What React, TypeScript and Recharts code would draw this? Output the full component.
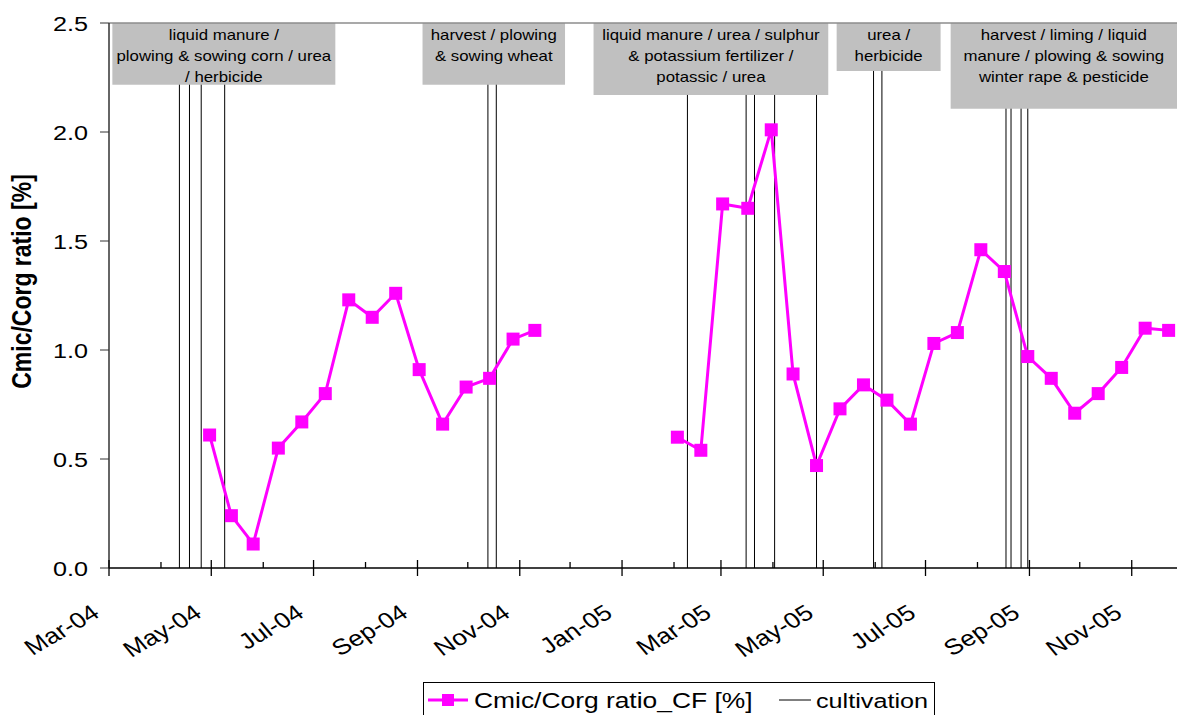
import React from "react";
import {
  LineChart,
  Line,
  XAxis,
  YAxis,
  ReferenceLine,
  ReferenceArea,
  Legend,
} from "recharts";

const FONT = "Arial, 'Liberation Sans', Helvetica, sans-serif";
const STRETCH = 1.2; // the source chart is stretched sideways
const MAGENTA = "#ff00ff";

// sampling dates and Cmic/Corg ratio (CF plot)
const sampleDates2004 = [
  "2004-04-30", "2004-05-13", "2004-05-26", "2004-06-10", "2004-06-24",
  "2004-07-08", "2004-07-22", "2004-08-05", "2004-08-19", "2004-09-02",
  "2004-09-16", "2004-09-30", "2004-10-14", "2004-10-28", "2004-11-10",
];
const ratioCF2004 = [
  0.61, 0.24, 0.11, 0.55, 0.67, 0.8, 1.23, 1.15, 1.26, 0.91, 0.66, 0.83, 0.87,
  1.05, 1.09,
];
const sampleDates2005 = [
  "2005-02-03", "2005-02-17", "2005-03-02", "2005-03-17", "2005-03-31",
  "2005-04-13", "2005-04-27", "2005-05-11", "2005-05-25", "2005-06-08",
  "2005-06-22", "2005-07-06", "2005-07-20", "2005-08-03", "2005-08-17",
  "2005-08-31", "2005-09-14", "2005-09-28", "2005-10-12", "2005-10-26",
  "2005-11-09", "2005-11-23",
];
const ratioCF2005 = [
  0.6, 0.54, 1.67, 1.65, 2.01, 0.89, 0.47, 0.73, 0.84, 0.77, 0.66, 1.03, 1.08,
  1.46, 1.36, 0.97, 0.87, 0.71, 0.8, 0.92, 1.1, 1.09,
];

// cultivation events
const cultivationDates = [
  "2004-04-12", "2004-04-18", "2004-04-25", "2004-05-09", "2004-10-13",
  "2004-10-18", "2005-02-09", "2005-03-16", "2005-03-21", "2005-04-02",
  "2005-04-27", "2005-05-31", "2005-06-05", "2005-08-18", "2005-08-21",
  "2005-08-27", "2005-08-31",
];

// grey note boxes
const noteTexts = [
  ["liquid manure /", "plowing & sowing corn / urea", "/ herbicide"],
  ["harvest / plowing", "& sowing wheat"],
  ["liquid manure / urea / sulphur", "& potassium fertilizer /", "potassic / urea"],
  ["urea /", "herbicide"],
  ["harvest / liming / liquid", "manure / plowing & sowing", "winter rape & pesticide"],
];
const noteFrom = ["2004-03-03", "2004-09-04", "2004-12-15", "2005-05-09", "2005-07-16"];
const noteTo = ["2004-07-14", "2004-11-28", "2005-05-04", "2005-07-10", "2005-11-28"];
const noteBottom = [2.217, 2.217, 2.17, 2.28, 2.107];

const monthTicks = [
  "2004-03-01", "2004-04-01", "2004-05-01", "2004-06-01", "2004-07-01",
  "2004-08-01", "2004-09-01", "2004-10-01", "2004-11-01", "2004-12-01",
  "2005-01-01", "2005-02-01", "2005-03-01", "2005-04-01", "2005-05-01",
  "2005-06-01", "2005-07-01", "2005-08-01", "2005-09-01", "2005-10-01",
  "2005-11-01",
];
const yTicks = [0, 0.5, 1, 1.5, 2, 2.5];
const monthNames = ["Jan", "Feb", "Mar", "Apr", "May", "Jun", "Jul", "Aug", "Sep", "Oct", "Nov", "Dec"];

const toTime = (s: string) =>
  Date.UTC(+s.slice(0, 4), +s.slice(5, 7) - 1, +s.slice(8, 10));

const series2004 = sampleDates2004.map((d, i) => ({ t: toTime(d), ratio: ratioCF2004[i] }));
const series2005 = sampleDates2005.map((d, i) => ({ t: toTime(d), ratio: ratioCF2005[i] }));

const X_START = toTime("2004-03-01");
const X_END = toTime("2005-11-28");

// cultivation lines stop under the note box that covers them
const lineTop = (d: string) => {
  const t = toTime(d);
  const i = noteFrom.findIndex((f, k) => t >= toTime(f) && t <= toTime(noteTo[k]));
  return i >= 0 ? noteBottom[i] : 2.5;
};

// text drawn with the same sideways stretch as the source
const SText = ({ x, y, anchor = "start", size, weight = "normal", rotate = 0, children }: any) => (
  <text
    transform={`translate(${x},${y}) scale(${STRETCH},1)${rotate ? ` rotate(${rotate})` : ""}`}
    textAnchor={anchor}
    fontSize={size}
    fontWeight={weight}
    fontFamily={FONT}
    fill="#000"
  >
    {children}
  </text>
);

const SquareDot = (props: any) => {
  const { cx, cy } = props;
  if (cx == null || cy == null) return null;
  return <rect x={cx - 6.5} y={cy - 6.5} width={13} height={13} fill={MAGENTA} />;
};

const XTick = ({ x, y, payload }: any) => {
  const d = new Date(payload.value);
  const m = d.getUTCMonth();
  const major = m % 2 === 0;
  const label = `${monthNames[m]}-${String(d.getUTCFullYear()).slice(2)}`;
  return (
    <g>
      <line x1={x} x2={x} y1={major ? y - 8 : y - 6} y2={major ? y + 8 : y} stroke="#000" strokeWidth={1.3} />
      {major && (
        <SText x={x - 8} y={y + 48} anchor="end" size={22} rotate={-35}>
          {label}
        </SText>
      )}
    </g>
  );
};

const YTick = ({ x, y, payload }: any) => (
  <SText x={x} y={y + 7.5} anchor="end" size={21}>
    {Number(payload.value).toFixed(1)}
  </SText>
);

const renderYTitle = () => (
  <SText x={31} y={281.5} anchor="middle" size={23} weight="bold" rotate={-90}>
    Cmic/Corg ratio [%]
  </SText>
);

const noteLabel = (lines: string[]) => (props: any) => {
  const { viewBox } = props;
  const cx = viewBox.x + viewBox.width / 2;
  return (
    <g>
      {lines.map((s, i) => (
        <SText key={i} x={cx} y={viewBox.y + 17 + i * 20.8} anchor="middle" size={14}>
          {s}
        </SText>
      ))}
    </g>
  );
};

const renderLegend = () => (
  <svg width={520} height={40} style={{ display: "block" }}>
    <rect x={0.5} y={0.5} width={511} height={45} fill="#fff" stroke="#000" />
    <line x1={5} x2={45} y1={18} y2={18} stroke={MAGENTA} strokeWidth={3} />
    <rect x={19} y={12} width={12} height={12} fill={MAGENTA} />
    <SText x={51} y={26} size={22}>Cmic/Corg ratio_CF [%]</SText>
    <line x1={356} x2={388} y1={18} y2={18} stroke="#000" strokeWidth={1} />
    <SText x={393} y={26} size={21}>cultivation</SText>
  </svg>
);

export default function App() {
  return (
    <div style={{ width: 1177, height: 715, background: "#fff" }}>
      <style>{"body{margin:0}"}</style>
      <LineChart width={1177} height={715} margin={{ top: 23, right: 0, bottom: 0, left: 0 }}>
        <XAxis
          type="number"
          dataKey="t"
          domain={[X_START, X_END]}
          allowDataOverflow
          ticks={monthTicks.map(toTime)}
          interval={0}
          height={147}
          tickSize={0}
          tickMargin={0}
          tickLine={false}
          tick={<XTick />}
          axisLine={{ stroke: "#000", strokeWidth: 1.5 }}
        />
        <YAxis
          type="number"
          domain={[0, 2.5]}
          ticks={yTicks}
          width={109}
          tickSize={9}
          tickMargin={12}
          tick={<YTick />}
          tickLine={{ stroke: "#333" }}
          axisLine={{ stroke: "#333", strokeWidth: 1.5 }}
          label={renderYTitle}
        />
        <ReferenceLine y={2.5} stroke="#8c8c8c" strokeWidth={1.5} />
        {noteTexts.map((lines, i) => (
          <ReferenceArea
            key={i}
            x1={toTime(noteFrom[i])}
            x2={toTime(noteTo[i])}
            y1={noteBottom[i]}
            y2={2.5}
            fill="#c0c0c0"
            fillOpacity={1}
            stroke="none"
            label={noteLabel(lines)}
          />
        ))}
        {cultivationDates.map((d) => (
          <ReferenceLine
            key={d}
            segment={[
              { x: toTime(d), y: 0 },
              { x: toTime(d), y: lineTop(d) },
            ]}
            stroke="#000"
            strokeWidth={1}
          />
        ))}
        <Line
          data={series2004}
          dataKey="ratio"
          name="Cmic/Corg ratio_CF [%]"
          stroke={MAGENTA}
          strokeWidth={3}
          dot={<SquareDot />}
          activeDot={false}
          isAnimationActive={false}
        />
        <Line
          data={series2005}
          dataKey="ratio"
          name="Cmic/Corg ratio_CF [%] 2005"
          stroke={MAGENTA}
          strokeWidth={3}
          dot={<SquareDot />}
          activeDot={false}
          legendType="none"
          isAnimationActive={false}
        />
        <Legend
          layout="vertical"
          align="center"
          verticalAlign="middle"
          wrapperStyle={{ position: "absolute", left: 423, top: 682, width: 520, height: 40 }}
          content={renderLegend}
        />
      </LineChart>
    </div>
  );
}
